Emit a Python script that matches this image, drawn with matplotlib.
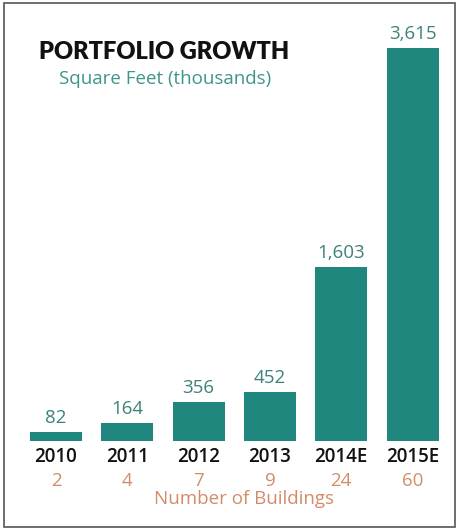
import matplotlib
matplotlib.use("Agg")
import matplotlib.pyplot as plt
from matplotlib.patches import Rectangle

years = ["2010", "2011", "2012", "2013", "2014E", "2015E"]
square_feet = [82, 164, 356, 452, 1603, 3615]
buildings = [2, 4, 7, 9, 24, 60]

BAR = "#20877e"
VALUE = "#3f817c"
SUB = "#3d968b"
ORANGE = "#d38c68"
FONT = "Open Sans"
TITLE_FONT = "Lato"

W, H = 461, 530
fig = plt.figure(figsize=(W / 100, H / 100), dpi=100)
fig.patch.set_facecolor("white")

# outer frame
fig.add_artist(Rectangle((4 / W, 3 / H), (455 - 4) / W, (527 - 3) / H,
                         transform=fig.transFigure, fill=False,
                         edgecolor="#555555", linewidth=1.2))

base_px, top_px = 441, 48
ax = fig.add_axes([20.3 / W, (H - base_px) / H, 428 / W, (base_px - top_px) / H])
ax.set_xlim(-0.5, len(years) - 0.5)
ax.set_ylim(0, max(square_feet))
ax.axis("off")

x = list(range(len(years)))
ax.bar(x, square_feet, width=0.73, color=BAR)

for xi, v in zip(x, square_feet):
    ax.annotate(f"{v:,}", (xi, v), xytext=(0, 3.5), textcoords="offset points",
                ha="center", va="bottom", fontsize=13.5, color=VALUE,
                family=FONT, annotation_clip=False)

for xi, yr, n in zip(x, years, buildings):
    ax.annotate(yr, (xi, 0), xytext=(0, -11.5), textcoords="offset points",
                ha="center", va="center", fontsize=13.5, color="#111111",
                family=FONT, fontweight="semibold", annotation_clip=False)
    ax.annotate(str(n), (xi, 0), xytext=(0, -29), textcoords="offset points",
                ha="center", va="center", fontsize=13.5, color=ORANGE,
                family=FONT, annotation_clip=False)

fig.text(244 / W, 1 - 499 / H, "Number of Buildings", ha="center", va="center",
         fontsize=13.5, color=ORANGE, family=FONT)

fig.text(164 / W, 1 - 52 / H, "PORTFOLIO GROWTH", ha="center", va="center",
         fontsize=17, fontweight="heavy", color="#111111", family=TITLE_FONT)
fig.text(165 / W, 1 - 79 / H, "Square Feet (thousands)", ha="center", va="center",
         fontsize=13.5, color=SUB, family=FONT)

fig.savefig("out.png", dpi=100, facecolor="white")
